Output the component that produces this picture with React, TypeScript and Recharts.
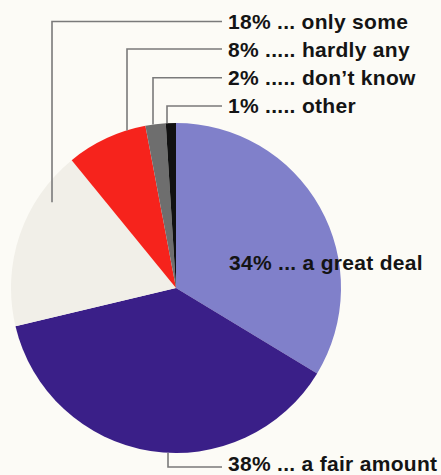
import React from 'react';
import { PieChart, Pie, Cell } from 'recharts';

const categories = ['a great deal', 'a fair amount', 'only some', 'hardly any', 'don’t know', 'other'];
const percents = [34, 38, 18, 8, 2, 1];
const dots = ['...', '...', '...', '.....', '.....', '.....'];
const colors = ['#8080ca', '#3a1f88', '#f1efe8', '#f6231c', '#6e6e6e', '#111111'];

const data = categories.map((name, i) => ({ name, value: percents[i] }));

// label layout (annotation placement only)
const labelLayout = [
  { textX: 229, textY: 270, leader: null },
  { textX: 228, textY: 471, leader: { dx: -8, lineY: 467, bottom: true, extra: 0 } },
  { textX: 228, textY: 28.5, leader: { dx: -124, lineY: 21.5, bottom: false, extra: 23 } },
  { textX: 228, textY: 56.8, leader: { dx: -49, lineY: 49, bottom: false, extra: 0 } },
  { textX: 228, textY: 85, leader: { dx: -23, lineY: 77.7, bottom: false, extra: 0 } },
  { textX: 228, textY: 113.3, leader: { dx: -9, lineY: 106, bottom: false, extra: 0 } },
];

const FONT = '"Liberation Sans", Arial, Helvetica, sans-serif';

const renderLabel = (props: any) => {
  const { cx, cy, outerRadius, index } = props;
  const cfg = labelLayout[index];
  const text = `${percents[index]}% ${dots[index]} ${categories[index]}`;
  let path: React.ReactNode = null;
  if (cfg.leader) {
    const { dx, lineY, bottom, extra } = cfg.leader;
    const x = cx + dx;
    const h = Math.sqrt(outerRadius * outerRadius - dx * dx);
    const edgeY = bottom ? cy + h - extra : cy - h + extra;
    const endX = cfg.textX - 6;
    path = (
      <path
        d={`M${x},${edgeY} L${x},${lineY} L${endX},${lineY}`}
        fill="none"
        stroke="#7a7a7a"
        strokeWidth={1.6}
      />
    );
  }
  return (
    <g key={`lbl-${index}`}>
      {path}
      <text
        x={cfg.textX}
        y={cfg.textY}
        fill="#141414"
        fontFamily={FONT}
        fontWeight="bold"
        fontSize={21}
        letterSpacing={0.3}
        textAnchor="start"
      >
        {text}
      </text>
    </g>
  );
};

export default function App() {
  return (
    <div style={{ position: 'absolute', left: 0, top: 0, width: 441, height: 475, background: '#fcfbf6' }}>
      <PieChart width={441} height={475} margin={{ top: 0, right: 0, bottom: 0, left: 0 }}>
        <Pie
          data={data}
          dataKey="value"
          nameKey="name"
          cx={176}
          cy={288}
          outerRadius={165}
          startAngle={90}
          endAngle={-270}
          stroke="none"
          isAnimationActive={false}
          label={renderLabel}
          labelLine={false}
        >
          {data.map((d, i) => (
            <Cell key={d.name} fill={colors[i]} />
          ))}
        </Pie>
      </PieChart>
    </div>
  );
}
